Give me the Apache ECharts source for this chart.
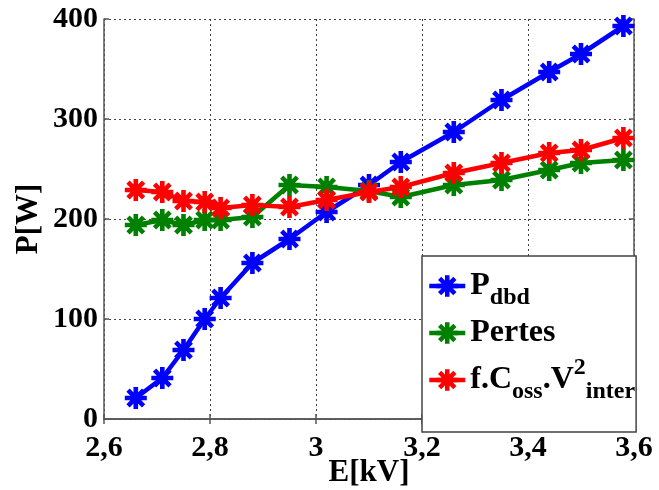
<!DOCTYPE html>
<html>
<head>
<meta charset="utf-8">
<script src="https://cdn.jsdelivr.net/npm/echarts@6/dist/echarts.min.js"></script>
<style>
html,body{margin:0;padding:0;background:#fff;}
#chart{width:659px;height:490px;}
</style>
</head>
<body>
<div id="chart"></div>
<script>
// ---- data ----
const E = [2.66, 2.71, 2.75, 2.79, 2.82, 2.88, 2.95, 3.02, 3.10, 3.16, 3.26, 3.35, 3.44, 3.50, 3.58];
const Pdbd = [21, 41, 69, 100, 121, 156, 180, 207, 234, 257, 287, 319, 347, 365, 393];
const Pertes = [194, 199, 194, 199, 199, 202, 234, 232, 228, 222, 234, 239, 249, 256, 259];
const PCoss = [229, 227, 218, 217, 211, 214, 212, 219, 227, 232, 246, 256, 266, 269, 281];
const seriesNames = ['P_dbd', 'Pertes', 'f.C_oss.V^2_inter'];
const legendLabels = ['{m|P}{s|dbd}', '{m|Pertes}', '{m|f.C}{s|oss}{m|.V}{p|2}{s|inter}'];
const xTickLabels = ['2,6', '2,8', '3', '3,2', '3,4', '3,6'];
const yTickLabels = ['0', '100', '200', '300', '400'];
const xName = 'E[kV]';
const yName = 'P[W]';
const colors = ['#0000ff', '#008000', '#ff0000'];

// ---- asterisk symbol ----
function starPath(n, t) {
  let d = '';
  for (let i = 0; i < n; i++) {
    const a = Math.PI * i / n;
    const c = Math.cos(a), s = Math.sin(a);
    const pts = [[-1, -t], [1, -t], [1, t], [-1, t]].map(p => [p[0] * c - p[1] * s, p[0] * s + p[1] * c]);
    d += 'M' + pts.map(p => p[0].toFixed(4) + ' ' + p[1].toFixed(4)).join('L') + 'Z';
  }
  return 'path://' + d;
}
const STAR = starPath(4, 0.21);

const FONT = "'Liberation Serif', 'Times New Roman', serif";
const chart = echarts.init(document.getElementById('chart'), null, {renderer: 'canvas'});

const values = [Pdbd, Pertes, PCoss];
const series = values.map((v, i) => ({
  name: seriesNames[i],
  type: 'line',
  xAxisIndex: 0, yAxisIndex: 0,
  data: E.map((e, k) => [e, v[k]]),
  symbol: STAR,
  symbolSize: 22,
  showAllSymbol: true,
  z: 3 + i,
  lineStyle: {color: colors[i], width: 4.5},
  itemStyle: {color: colors[i]},
  emphasis: {disabled: true}
}));

const axisLineStyle = {color: '#555', width: 1.5};
const splitStyle = {show: true, lineStyle: {color: '#444', width: 1, type: [2, 3]}};

chart.setOption({
  animation: false,
  backgroundColor: '#fff',
  grid: {left: 104, right: 25, top: 19, bottom: 71, containLabel: false, outerBoundsMode: 'none'},
  xAxis: [{
    type: 'value', min: 2.6, max: 3.6, interval: 0.2, position: 'bottom',
    name: xName, nameLocation: 'middle', nameGap: 38, nameMoveOverlap: false,
    nameTextStyle: {fontFamily: FONT, fontWeight: 'bold', fontSize: 31, color: '#000'},
    axisLine: {show: true, lineStyle: axisLineStyle},
    axisTick: {show: true, inside: true, length: 5, lineStyle: axisLineStyle},
    axisLabel: {
      fontFamily: FONT, fontWeight: 'bold', fontSize: 30, color: '#000', margin: 14,
      formatter: v => xTickLabels[Math.round((v - 2.6) / 0.2)]
    },
    splitLine: splitStyle
  }, {
    type: 'value', min: 2.6, max: 3.6, interval: 0.2, position: 'top',
    axisLine: {show: true, lineStyle: axisLineStyle},
    axisTick: {show: true, inside: true, length: 5, lineStyle: axisLineStyle},
    axisLabel: {show: false}, splitLine: {show: false}
  }],
  yAxis: [{
    type: 'value', min: 0, max: 400, interval: 100, position: 'left',
    name: yName, nameLocation: 'middle', nameGap: 60, nameRotate: 90, nameMoveOverlap: false,
    nameTextStyle: {fontFamily: FONT, fontWeight: 'bold', fontSize: 31, color: '#000'},
    axisLine: {show: true, lineStyle: axisLineStyle},
    axisTick: {show: true, inside: true, length: 5, lineStyle: axisLineStyle},
    axisLabel: {
      fontFamily: FONT, fontWeight: 'bold', fontSize: 30, color: '#000', margin: 6,
      formatter: v => yTickLabels[Math.round(v / 100)]
    },
    splitLine: splitStyle
  }, {
    type: 'value', min: 0, max: 400, interval: 100, position: 'right',
    axisLine: {show: true, lineStyle: axisLineStyle},
    axisTick: {show: true, inside: true, length: 5, lineStyle: axisLineStyle},
    axisLabel: {show: false}, splitLine: {show: false}
  }],
  legend: {
    data: seriesNames,
    orient: 'vertical',
    left: 422, top: 256,
    padding: [14, 1, 28, 5],
    itemGap: 7,
    itemWidth: 36, itemHeight: 27,
    backgroundColor: '#fff',
    borderColor: '#444', borderWidth: 1.5,
    selectedMode: false,
    lineStyle: {width: 4.5},
    formatter: name => legendLabels[seriesNames.indexOf(name)],
    textStyle: {
      fontFamily: FONT, fontWeight: 'bold', color: '#000',
      rich: {
        m: {fontFamily: FONT, fontWeight: 'bold', fontSize: 32, color: '#000', lineHeight: 48, verticalAlign: 'middle'},
        s: {fontFamily: FONT, fontWeight: 'bold', fontSize: 24, color: '#000', lineHeight: 10, verticalAlign: 'bottom'},
        p: {fontFamily: FONT, fontWeight: 'bold', fontSize: 24, color: '#000', lineHeight: 18, verticalAlign: 'top'}
      }
    }
  },
  series: series
});
</script>
</body>
</html>
